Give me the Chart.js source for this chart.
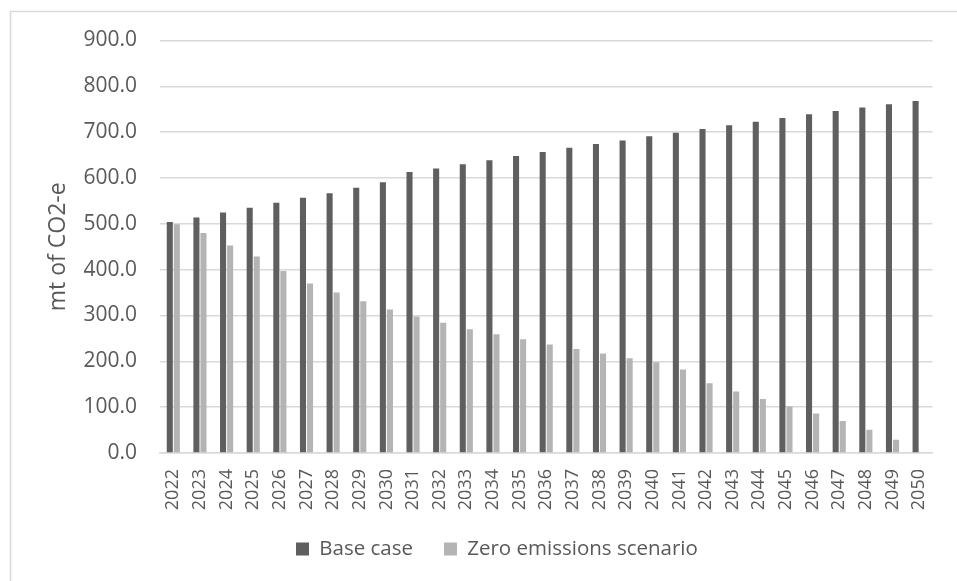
<!DOCTYPE html>
<html>
<head>
<meta charset="utf-8">
<script src="https://cdn.jsdelivr.net/npm/chart.js@4.4.1/dist/chart.umd.min.js"></script>
<style>
  html, body { margin: 0; padding: 0; background: #fff; }
  #wrap { width: 957px; height: 581px; position: relative; }
</style>
</head>
<body>
<div id="wrap"><canvas id="emissionsChart" width="957" height="581"></canvas></div>
<script>
const years = ["2022", "2023", "2024", "2025", "2026", "2027", "2028", "2029", "2030", "2031",
  "2032", "2033", "2034", "2035", "2036", "2037", "2038", "2039", "2040", "2041",
  "2042", "2043", "2044", "2045", "2046", "2047", "2048", "2049", "2050"];

const baseCase = [504, 514, 525, 535, 546, 557, 567, 579, 591, 613,
  621, 630, 639, 648, 657, 666, 674, 682, 691, 699,
  707, 715, 723, 731, 739, 746, 754, 761, 768];

const zeroEmissions = [499, 480, 453, 429, 397, 370, 350, 331, 313, 298,
  284, 270, 259, 248, 237, 227, 217, 207, 198, 182,
  152, 134, 118, 102, 86, 70, 51, 29, 0];

const yTicks = [0, 100, 200, 300, 400, 500, 600, 700, 800, 900];

const textColor = "#595959";
const gridColor = "#d9d9d9";
const padBottom = 4;
const plotBottom = 453;
const legendFont = 20.5;

// thin grey frame like the Excel chart area + legend placement
const framePlugin = {
  id: "frame",
  beforeDraw(chart) {
    const c = chart.ctx;
    c.save();
    c.strokeStyle = "#d9d9d9";
    c.lineWidth = 1.5;
    c.beginPath();
    c.moveTo(10.5, chart.height + 5);
    c.lineTo(10.5, 11.5);
    c.lineTo(chart.width + 5, 11.5);
    c.stroke();
    c.restore();
  },
  afterLayout(chart) {
    const lg = chart.legend;
    if (!lg || !lg.lineWidths) return;
    const p = lg.options.labels.padding;
    const w = lg.width, h = lg.height;
    // first legend box should start at x=296, row centred on y=549
    lg.left = (2 * 296 - p - w + lg.lineWidths[0]) / 2;
    lg.right = lg.left + w;
    lg.top = 549 - p - legendFont / 2;
    lg.bottom = lg.top + h;
  }
};

const ctx = document.getElementById("emissionsChart").getContext("2d");

new Chart(ctx, {
  type: "bar",
  data: {
    labels: years,
    datasets: [
      {
        label: "Base case",
        data: baseCase,
        backgroundColor: "#5f5f5f",
        categoryPercentage: 0.53,
        barPercentage: 0.86
      },
      {
        label: "Zero emissions scenario",
        data: zeroEmissions,
        backgroundColor: "#b4b4b4",
        categoryPercentage: 0.53,
        barPercentage: 0.86
      }
    ]
  },
  options: {
    responsive: false,
    animation: false,
    layout: {
      padding: { left: 0, right: 16, top: 40.5, bottom: padBottom }
    },
    plugins: {
      tooltip: { enabled: false },
      legend: {
        position: "bottom",
        labels: {
          color: textColor,
          font: { family: "'Open Sans'", size: legendFont },
          boxWidth: 13,
          boxHeight: 13,
          padding: 31
        }
      }
    },
    scales: {
      x: {
        afterFit(scale) {
          const lh = scale.chart.legend ? scale.chart.legend.height : 0;
          scale.height = scale.chart.height - padBottom - lh - plotBottom;
        },
        grid: { display: false, drawTicks: false },
        border: { display: true, color: gridColor, width: 1.5 },
        ticks: {
          color: textColor,
          font: { family: "'Open Sans'", size: 18 },
          minRotation: 90,
          maxRotation: 90,
          autoSkip: false,
          padding: 16
        }
      },
      y: {
        min: 0,
        max: 900,
        afterBuildTicks(scale) {
          scale.ticks = yTicks.map(v => ({ value: v }));
        },
        afterFit(scale) {
          scale.width = 160;
        },
        grid: { color: gridColor, lineWidth: 1.5, drawTicks: false },
        border: { display: false },
        ticks: {
          color: textColor,
          font: { family: "'Open Sans'", size: 21 },
          padding: 23,
          callback: v => Number(v).toFixed(1)
        },
        title: {
          display: true,
          text: "mt of CO2-e",
          color: textColor,
          font: { family: "'Open Sans'", size: 23 },
          padding: { top: 45, bottom: 0 }
        }
      }
    }
  },
  plugins: [framePlugin]
});
</script>
</body>
</html>
